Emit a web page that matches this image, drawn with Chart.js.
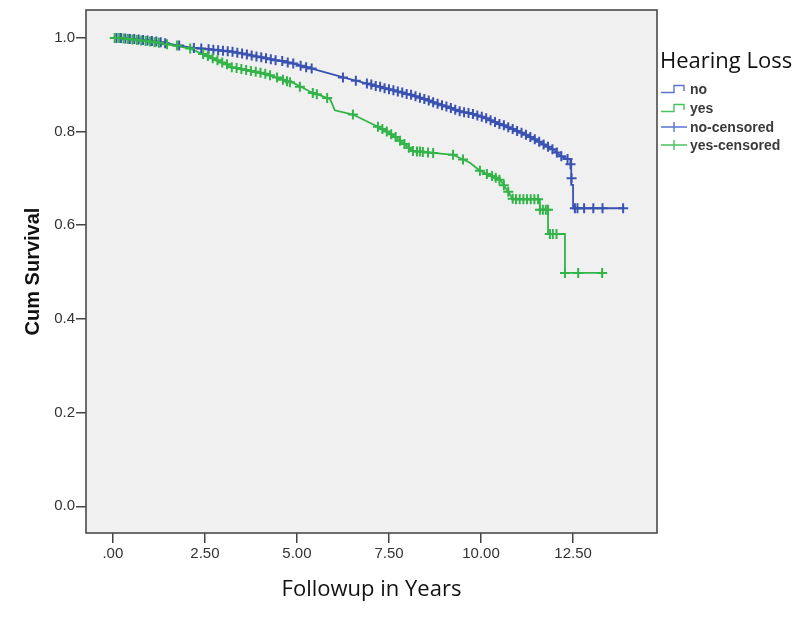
<!DOCTYPE html>
<html>
<head>
<meta charset="utf-8">
<script src="https://cdn.jsdelivr.net/npm/chart.js@4.4.1/dist/chart.umd.min.js"></script>
<style>
  html, body { margin: 0; padding: 0; background: #fff; }
  #wrap { position: relative; width: 800px; height: 617px; }
  #legend { position: absolute; left: 660px; top: 44px; font-family: 'Liberation Sans', Arial, sans-serif; color: #333; }
  #legend .title { font-family: 'Open Sans', sans-serif; font-size: 22px; color: #111; line-height: 30px; margin-bottom: 6px; }
  #legend .item { display: flex; align-items: center; font-size: 14px; font-weight: bold; height: 18.7px; color: #3a3a3a; }
  #legend svg { margin-right: 2px; }
</style>
</head>
<body>
<div id="wrap">
  <canvas id="kmChart" width="800" height="617"></canvas>
  <div id="legend"></div>
</div>
<script>
// Kaplan-Meier survival by hearing loss group

const groupNames = ['no', 'yes'];
const legendLabels = ['no', 'yes', 'no-censored', 'yes-censored'];

const xTicks = [0, 2.5, 5, 7.5, 10, 12.5];
const xTickLabels = ['.00', '2.50', '5.00', '7.50', '10.00', '12.50'];
const yTicks = [0, 0.2, 0.4, 0.6, 0.8, 1.0];
const yTickLabels = ['0.0', '0.2', '0.4', '0.6', '0.8', '1.0'];

// survival curve, group "no"
const noTime = [0, 1.0, 2.09, 3.26, 4.18, 4.89, 6.36, 8.15, 9.43, 9.97, 10.33, 11.25, 11.96, 12.23, 12.45, 12.45, 12.5, 12.5, 13.86];
const noSurv = [1.0, .994, .979, .970, .956, .945, .913, .877, .843, .833, .822, .792, .761, .744, .740, .686, .686, .636, .636];

// survival curve, group "yes"
const yesTime = [0, 1.0, 2.09, 3.26, 4.18, 4.89, 5.35, 5.9, 6.03, 6.52, 7.17, 7.61, 8.15, 8.7, 9.24, 9.7, 9.97, 10.52, 10.87, 11.6, 11.6, 11.82, 11.82, 12.28, 12.28, 13.29];
const yesSurv = [1.0, .992, .977, .936, .921, .904, .885, .869, .845, .836, .811, .792, .758, .754, .750, .733, .716, .697, .655, .655, .633, .633, .581, .581, .498, .498];

// censored marks, group "no"
const noCensT = [0.1, 0.22, 0.34, 0.46, 0.58, 0.7, 0.82, 0.94, 1.06, 1.18, 1.3, 1.42,
  1.8, 2.2, 2.4,
  2.6, 2.73, 2.86, 2.99, 3.12, 3.25, 3.38, 3.51, 3.64, 3.77, 3.9, 4.03, 4.16, 4.29, 4.42,
  4.6, 4.75, 4.9, 5.1, 5.25, 5.4,
  6.25, 6.6,
  6.9, 7.02, 7.14, 7.26, 7.38, 7.5, 7.62, 7.74, 7.86, 7.98, 8.1,
  8.22, 8.34, 8.46, 8.58, 8.7, 8.82, 8.94, 9.06, 9.18, 9.3, 9.42,
  9.54, 9.66, 9.78, 9.9, 10.02, 10.14, 10.26,
  10.38, 10.5, 10.62, 10.74, 10.86, 10.98, 11.1, 11.22,
  11.34, 11.46, 11.58, 11.7, 11.82, 11.94, 12.06, 12.18,
  12.35, 12.43, 12.46,
  12.55, 12.62, 12.8, 13.05, 13.3, 13.86];
const noCensS = [.999, .999, .998, .997, .997, .996, .995, .994, .993, .992, .990, .988,
  .983, .978, .977,
  .975, .974, .973, .972, .971, .970, .968, .966, .964, .962, .960, .958, .956, .954, .952,
  .950, .947, .945, .940, .937, .934,
  .915, .908,
  .902, .900, .897, .895, .892, .890, .888, .885, .883, .880, .878,
  .875, .872, .869, .866, .862, .859, .856, .853, .850, .846, .843,
  .841, .839, .837, .834, .831, .828, .824,
  .820, .816, .813, .809, .805, .801, .797, .793,
  .788, .783, .778, .772, .767, .762, .755, .747,
  .741, .730, .700,
  .636, .636, .636, .636, .636, .636];

// censored marks, group "yes"
const yesCensT = [0.05, 0.17, 0.29, 0.41, 0.53, 0.65, 0.77, 0.89, 1.01, 1.13, 1.25,
  1.47, 1.74, 2.1,
  2.45, 2.58, 2.71, 2.84, 2.97, 3.1, 3.23, 3.36, 3.49, 3.62, 3.75, 3.88, 4.01, 4.14, 4.27,
  4.46, 4.62, 4.73, 4.81, 5.08, 5.43, 5.54, 5.82, 6.52,
  7.2, 7.32, 7.44, 7.56, 7.68, 7.8, 7.92, 8.04, 8.15,
  8.26, 8.34, 8.42, 8.56, 8.7, 9.24, 9.51, 9.97, 10.16, 10.3,
  10.4, 10.5, 10.62, 10.74, 10.86,
  10.95, 11.05, 11.15, 11.25, 11.35, 11.45, 11.55,
  11.6, 11.68, 11.76, 11.82,
  11.87, 11.95, 12.05,
  12.28, 12.64, 13.29];
const yesCensS = [.999, .999, .998, .997, .996, .995, .994, .993, .992, .990, .989,
  .986, .983, .977,
  .965, .961, .956, .952, .947, .943, .937, .935, .933, .931, .929, .927, .925, .923, .920,
  .915, .910, .907, .905, .895, .882, .879, .871, .836,
  .810, .805, .800, .794, .788, .780, .773, .765, .758,
  .757, .757, .756, .755, .754, .750, .740, .716, .709, .705,
  .701, .697, .685, .671, .656,
  .655, .655, .655, .655, .655, .655, .655,
  .633, .633, .633, .633,
  .581, .581, .581,
  .498, .498, .498];

const blue = '#3a52b2';
const green = '#32b448';

function pts(ts, ss) {
    return ts.map((t, i) => ({ x: t, y: ss[i] }));
}

// grey plot background + dark frame round the chart area
const plotFrame = {
    id: 'plotFrame',
    beforeDraw(chart) {
        const { ctx, chartArea: a } = chart;
        ctx.save();
        ctx.fillStyle = '#f0f0f0';
        ctx.fillRect(a.left, a.top, a.right - a.left, a.bottom - a.top);
        ctx.restore();
    },
    afterDraw(chart) {
        const { ctx, chartArea: a } = chart;
        ctx.save();
        ctx.strokeStyle = '#4a4a4a';
        ctx.lineWidth = 1.6;
        ctx.strokeRect(a.left, a.top, a.right - a.left, a.bottom - a.top);
        ctx.restore();
    }
};

const tickFont = { family: "'Liberation Sans', Arial, sans-serif", size: 15 };

new Chart(document.getElementById('kmChart').getContext('2d'), {
    type: 'line',
    data: {
        datasets: [
            {
                label: 'yes-censored',
                data: pts(yesCensT, yesCensS),
                showLine: false,
                pointStyle: 'cross',
                pointRadius: 5,
                pointBorderWidth: 2,
                borderColor: green,
                backgroundColor: green
            },
            {
                label: 'no-censored',
                data: pts(noCensT, noCensS),
                showLine: false,
                pointStyle: 'cross',
                pointRadius: 5,
                pointBorderWidth: 2,
                borderColor: blue,
                backgroundColor: blue
            },
            {
                label: groupNames[1],
                data: pts(yesTime, yesSurv),
                borderColor: green,
                borderWidth: 1.8,
                pointRadius: 0,
                tension: 0,
                fill: false
            },
            {
                label: groupNames[0],
                data: pts(noTime, noSurv),
                borderColor: blue,
                borderWidth: 1.8,
                pointRadius: 0,
                tension: 0,
                fill: false
            }
        ]
    },
    options: {
        responsive: false,
        animation: false,
        layout: { padding: { top: 6, right: 143, bottom: 0, left: 0 } },
        plugins: {
            legend: { display: false },
            tooltip: { enabled: false }
        },
        scales: {
            x: {
                type: 'linear',
                min: -0.73,
                max: 14.78,
                afterBuildTicks: scale => { scale.ticks = xTicks.map(v => ({ value: v })); },
                afterFit: scale => { scale.height = 84; },
                ticks: {
                    callback: v => xTickLabels[xTicks.indexOf(v)],
                    font: tickFont,
                    color: '#333',
                    padding: 2,
                    maxRotation: 0
                },
                grid: { drawOnChartArea: false, drawTicks: true, tickLength: 10, color: '#444', lineWidth: 1.5 },
                border: { display: false },
                title: {
                    display: true,
                    text: 'Followup in Years',
                    font: { family: "'Open Sans', sans-serif", size: 22 },
                    color: '#111',
                    padding: { top: 0, bottom: 14 }
                }
            },
            y: {
                min: -0.057,
                max: 1.059,
                afterBuildTicks: scale => { scale.ticks = yTicks.map(v => ({ value: v })); },
                afterFit: scale => { scale.width = 86; },
                ticks: {
                    callback: v => yTickLabels[yTicks.indexOf(v)],
                    font: tickFont,
                    color: '#333',
                    padding: 1
                },
                grid: { drawOnChartArea: false, drawTicks: true, tickLength: 10, color: '#444', lineWidth: 1.5 },
                border: { display: false },
                title: {
                    display: true,
                    text: 'Cum Survival',
                    font: { family: "'Liberation Sans', Arial, sans-serif", size: 20, weight: 'bold' },
                    color: '#111',
                    padding: { top: 21, bottom: 0 }
                }
            }
        }
    },
    plugins: [plotFrame]
});

// legend drawn as html next to the plot
const legendIcons = {
    step: c => `<svg width="28" height="12"><path d="M1 9.5 H14 V2.5 H24 V8" fill="none" stroke="${c}" stroke-width="1.4"/></svg>`,
    cross: c => `<svg width="28" height="12"><path d="M1 6 H27 M14 1 V11" fill="none" stroke="${c}" stroke-width="1.4"/></svg>`
};
const legendColors = ['#5a74cf', '#4cc160', '#5a74cf', '#4cc160'];
const legendKinds = ['step', 'step', 'cross', 'cross'];

let html = '<div class="title">Hearing Loss</div>';
legendLabels.forEach((lbl, i) => {
    html += `<div class="item">${legendIcons[legendKinds[i]](legendColors[i])}<span>${lbl}</span></div>`;
});
document.getElementById('legend').innerHTML = html;
</script>
</body>
</html>
